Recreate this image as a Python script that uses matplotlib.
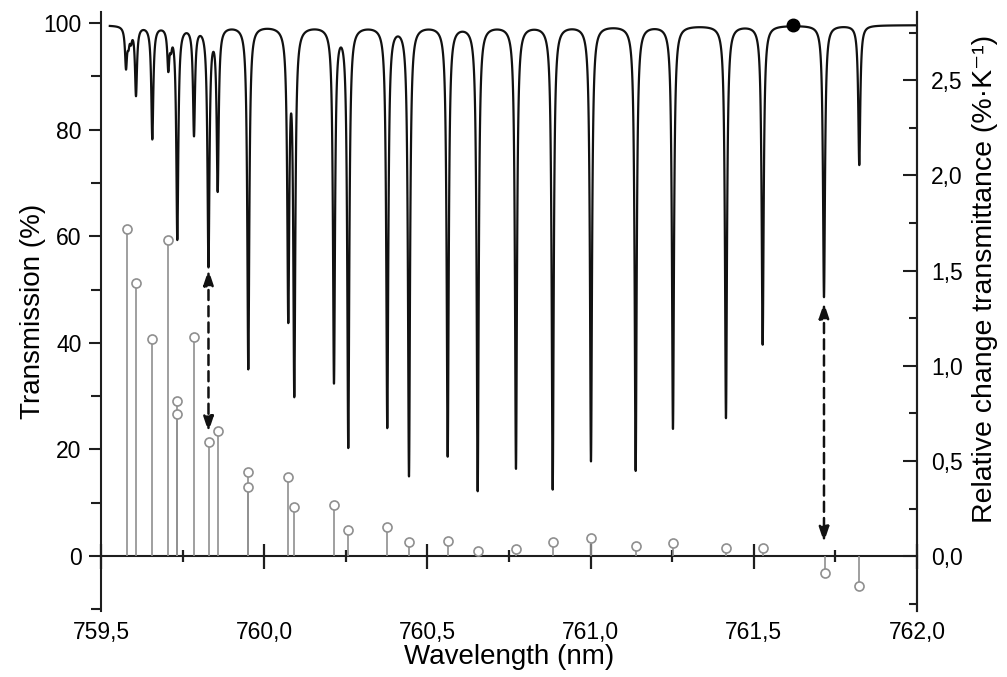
import numpy as np
import matplotlib
matplotlib.use("Agg")
import matplotlib.pyplot as plt
from matplotlib.ticker import MultipleLocator, FuncFormatter

plt.rcParams['font.family'] = ['Liberation Sans', 'DejaVu Sans']
plt.rcParams['path.simplify'] = False

# ---------------- data ----------------
# absorption lines of the transmission spectrum (nm, minimum transmission %)
line_centers = [759.5766, 759.5843, 759.5919, 759.6072, 759.6572, 759.7062, 759.7145,
                759.7338, 759.7849, 759.8293, 759.8575, 759.9513, 760.0738, 760.0922,
                760.2138, 760.2576, 760.3771, 760.4436, 760.5622, 760.6541, 760.7714,
                760.8839, 761.0012, 761.1381, 761.2524, 761.4148, 761.5272, 761.7151,
                761.8232]
line_minima = [92.1, 97.0, 97.5, 86.7, 78.4, 92.1, 97.0,
               59.6, 79.3, 54.6, 69.0, 35.1, 45.0, 30.5,
               32.6, 20.4, 24.1, 15.0, 18.7, 12.2, 16.4,
               12.5, 17.8, 16.0, 23.9, 25.9, 39.7, 48.6,
               73.4]
line_halfwidth = 0.0037          # nm
baseline = 99.6                  # % transmission between lines
spectrum_range = (759.527, 762.0)

# relative change of transmittance (%·K^-1)
rel_wl = [759.579, 759.607, 759.657, 759.706, 759.733, 759.733, 759.784, 759.830,
          759.858, 759.951, 759.951, 760.073, 760.092, 760.214, 760.258, 760.377,
          760.444, 760.564, 760.654, 760.771, 760.884, 761.001, 761.138, 761.252,
          761.414, 761.527, 761.718, 761.823]
rel_val = [1.716, 1.437, 1.141, 1.659, 0.816, 0.749, 1.149, 0.598,
           0.658, 0.444, 0.362, 0.416, 0.256, 0.268, 0.137, 0.154,
           0.072, 0.081, 0.028, 0.037, 0.075, 0.093, 0.053, 0.070,
           0.044, 0.041, -0.089, -0.158]

# marked point and double arrows (wavelength, transmission %)
dot_wl, dot_T = 761.62, 99.6
arrow_wl = [759.8293, 761.7151]
arrow_top = [53.7, 47.5]
arrow_bottom = [23.3, 2.6]

x_ticks = [759.5, 760.0, 760.5, 761.0, 761.5, 762.0]
left_ticks = [0, 20, 40, 60, 80, 100]
right_ticks = [0.0, 0.5, 1.0, 1.5, 2.0, 2.5]

# ---------------- spectrum ----------------
wl = np.linspace(spectrum_range[0], spectrum_range[1], 40000)
T = np.full_like(wl, baseline)
for c, m in zip(line_centers, line_minima):
    depth = 1 - m / baseline
    T *= 1 - depth / (1 + ((wl - c) / line_halfwidth) ** 2)

# ---------------- figure ----------------
fig = plt.figure(figsize=(10.07, 6.77), dpi=100)
ax = fig.add_axes([0.1003, 0.0975, 0.8103, 0.8848])
ylim1 = (-10.3, 102.06)
k = 35.7
ax.set_xlim(759.5, 762.0)
ax.set_ylim(*ylim1)

spine_c = '#1e1e1e'
ax.plot(wl, T, color='#111111', lw=1.6, zorder=3)
ax.plot([dot_wl], [dot_T], 'o', color='black', ms=9, zorder=4)

for xa, yt, yb in zip(arrow_wl, arrow_top, arrow_bottom):
    ax.annotate('', xy=(xa, yb), xytext=(xa, yt),
                arrowprops=dict(arrowstyle='<|-|>,head_length=0.9,head_width=0.3',
                                color='#111111', lw=1.8, linestyle=(0, (4, 2.5)),
                                shrinkA=0, shrinkB=0), zorder=5)

ax.spines['top'].set_visible(False)
ax.spines['bottom'].set_position(('data', 0))
for s in ['left', 'bottom', 'right']:
    ax.spines[s].set_color(spine_c)
    ax.spines[s].set_linewidth(1.5)

ax.set_xticks(x_ticks)
ax.xaxis.set_minor_locator(MultipleLocator(0.25))
ax.tick_params(axis='x', which='major', direction='inout', length=18, width=1.6,
               color=spine_c, labelbottom=False)
ax.tick_params(axis='x', which='minor', direction='inout', length=9, width=1.6,
               color=spine_c)
ax.set_xlabel('Wavelength (nm)', fontsize=20)
ax.xaxis.set_label_coords(0.5, -0.055)

ax.set_yticks(left_ticks)
ax.yaxis.set_minor_locator(MultipleLocator(10))
ax.tick_params(axis='y', which='major', direction='out', length=9, width=1.5,
               color=spine_c, labelsize=16.5, pad=5)
ax.tick_params(axis='y', which='minor', direction='out', length=7, width=1.5,
               color=spine_c)
ax.set_ylabel('Transmission (%)', fontsize=20)
ax.yaxis.set_label_coords(-0.068, 0.5)

# x tick labels at the bottom of the axes
sec = ax.secondary_xaxis(0)
sec.set_xticks(x_ticks)
sec.xaxis.set_major_formatter(FuncFormatter(lambda v, p: f"{v:.1f}".replace('.', ',')))
sec.tick_params(length=0, labelsize=16.5, pad=7)
sec.spines['bottom'].set_visible(False)

# right axis
ax2 = ax.twinx()
ax2.set_ylim(ylim1[0] / k, ylim1[1] / k)
for s in ['top', 'bottom', 'left']:
    ax2.spines[s].set_visible(False)
ax2.spines['right'].set_color(spine_c)
ax2.spines['right'].set_linewidth(1.5)
ax2.set_yticks(right_ticks)
ax2.yaxis.set_minor_locator(MultipleLocator(0.25))
ax2.yaxis.set_major_formatter(FuncFormatter(lambda v, p: f"{v:.1f}".replace('.', ',')))
ax2.tick_params(axis='y', which='major', direction='in', length=10, width=1.5,
                color=spine_c, labelsize=16.5, pad=10)
ax2.tick_params(axis='y', which='minor', direction='in', length=6, width=1.5,
                color=spine_c)
ax2.set_ylabel('Relative change transmittance (%·K⁻¹)', fontsize=20.5)
ax2.yaxis.set_label_coords(1.068, 0.554)

stem_c = '#8f8f8f'
ax2.vlines(rel_wl, 0, rel_val, colors=stem_c, lw=1.2, zorder=2)
ax2.plot(rel_wl, rel_val, 'o', ms=6.5, mfc='white', mec=stem_c, mew=1.2, zorder=3)

fig.savefig('out.png', dpi=100)
